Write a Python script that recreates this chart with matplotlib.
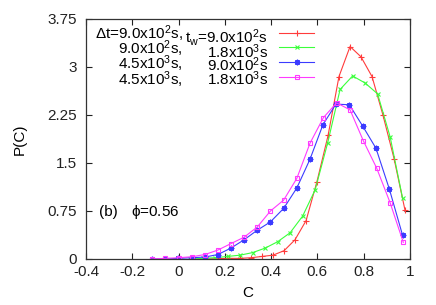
import matplotlib
matplotlib.use("Agg")
import matplotlib.pyplot as plt

plt.rcParams['font.family'] = ['Liberation Sans', 'DejaVu Sans']
plt.rcParams['mathtext.default'] = 'regular'
plt.rcParams['axes.unicode_minus'] = False

# Data
c_red = [0.123, 0.171, 0.218, 0.266, 0.313, 0.361, 0.408, 0.456, 0.503, 0.551,
         0.598, 0.646, 0.693, 0.741, 0.788, 0.836, 0.883, 0.931, 0.978]
p_red = [0.0, 0.005, 0.01, 0.01, 0.02, 0.04, 0.06, 0.13, 0.30, 0.60,
         1.21, 1.93, 2.85, 3.32, 3.16, 2.85, 2.25, 1.57, 0.77]

c_green = [0.050, 0.104, 0.158, 0.212, 0.266, 0.320, 0.374, 0.428, 0.482, 0.536,
           0.590, 0.644, 0.698, 0.752, 0.806, 0.860, 0.914, 0.968]
p_green = [0.0, 0.01, 0.02, 0.04, 0.06, 0.10, 0.17, 0.27, 0.41, 0.67,
           1.08, 1.81, 2.65, 2.86, 2.75, 2.58, 1.91, 0.95]

c_blue = [-0.115, -0.058, -0.001, 0.056, 0.113, 0.170, 0.226, 0.283, 0.340, 0.397,
          0.454, 0.511, 0.568, 0.624, 0.680, 0.738, 0.795, 0.853, 0.911, 0.968]
p_blue = [0.0, 0.0, 0.01, 0.02, 0.03, 0.07, 0.17, 0.30, 0.45, 0.58,
          0.79, 1.11, 1.56, 2.10, 2.42, 2.41, 2.08, 1.73, 1.09, 0.37]

c_mag = [-0.116, -0.059, 0.0, 0.057, 0.114, 0.170, 0.226, 0.283, 0.340, 0.397,
         0.454, 0.511, 0.568, 0.626, 0.683, 0.741, 0.798, 0.856, 0.914, 0.971]
p_mag = [0.0, 0.01, 0.02, 0.035, 0.07, 0.14, 0.24, 0.34, 0.50, 0.75,
         0.92, 1.26, 1.81, 2.21, 2.44, 2.33, 1.85, 1.42, 0.88, 0.26]

col1 = [r'$\Delta$t=9.0x10$^2$s,', '9.0x10$^2$s,', '4.5x10$^3$s,', '4.5x10$^3$s,']
col2 = ['t$_w$=9.0x10$^2$s', '1.8x10$^3$s', '9.0x10$^2$s', '1.8x10$^3$s']

xticks = [-0.4, -0.2, 0, 0.2, 0.4, 0.6, 0.8, 1]
xticklabels = ['-0.4', '-0.2', '0', '0.2', '0.4', '0.6', '0.8', '1']
yticks = [0, 0.75, 1.5, 2.25, 3, 3.75]
yticklabels = ['0', '0.75', '1.5', '2.25', '3', '3.75']

FS = 11

fig = plt.figure(figsize=(4.36, 3.05), dpi=100)
ax = fig.add_axes([86/436, 46/305, 324/436, 240/305])

styles = [
    dict(color='#ff3b3b', marker='+', ms=4, mew=0.8),
    dict(color='#3bff3b', marker='x', ms=3.5, mew=0.8),
    dict(color='#3b3bff', marker=(8, 2, 0), ms=4, mew=0.9),
    dict(color='#ff3bff', marker='s', ms=3.3, mew=0.8, mfc='none'),
]
series = [(c_red, p_red), (c_green, p_green), (c_blue, p_blue), (c_mag, p_mag)]
handles = []
for (cx, py), st in zip(series, styles):
    h, = ax.plot(cx, py, lw=0.8, **st)
    handles.append(h)

ax.set_xlim(-0.4, 1.0)
ax.set_ylim(0, 3.75)
ax.set_xticks(xticks)
ax.set_xticklabels(xticklabels)
ax.set_yticks(yticks)
ax.set_yticklabels(yticklabels)
ax.tick_params(direction='in', length=4, width=0.8, top=True, right=True,
               labelsize=FS, colors='#222222')
ax.tick_params(axis='x', pad=4.5)
ax.tick_params(axis='y', pad=6.5)
for s in ax.spines.values():
    s.set_linewidth(0.9)
    s.set_color('#333333')

ax.set_xlabel('C', fontsize=FS, labelpad=5)
ax.set_ylabel('P(C)', fontsize=FS, labelpad=15)

# Legend: line samples via legend handles (no labels)
leg = ax.legend(handles, ['', '', '', ''], loc='upper left',
                bbox_to_anchor=((279 - 86) / 324, 1 - (27 - 19) / 240),
                frameon=False, handlelength=2.3, handletextpad=0,
                labelspacing=0.05, borderpad=0, borderaxespad=0,
                fontsize=FS, markerfirst=True)

# Legend texts: two right-aligned columns, each as one multi-line text
# (baseline alignment refers to the last line)
yb = 1 - (84.5 - 19) / 240
ax.text((183 - 86) / 324, yb, '\n'.join(col1), transform=ax.transAxes,
        ha='right', va='baseline', multialignment='right', fontsize=FS,
        linespacing=0.645)
ax.text((268 - 86) / 324, yb, '\n'.join(col2), transform=ax.transAxes,
        ha='right', va='baseline', multialignment='right', fontsize=FS,
        linespacing=0.645)

ax.text(-0.344, 0.73, '(b)', fontsize=FS, va='center', ha='left')
ax.text(-0.206, 0.73, r'$\phi$=0.56', fontsize=FS, va='center', ha='left')

fig.savefig('out.png', dpi=100)
